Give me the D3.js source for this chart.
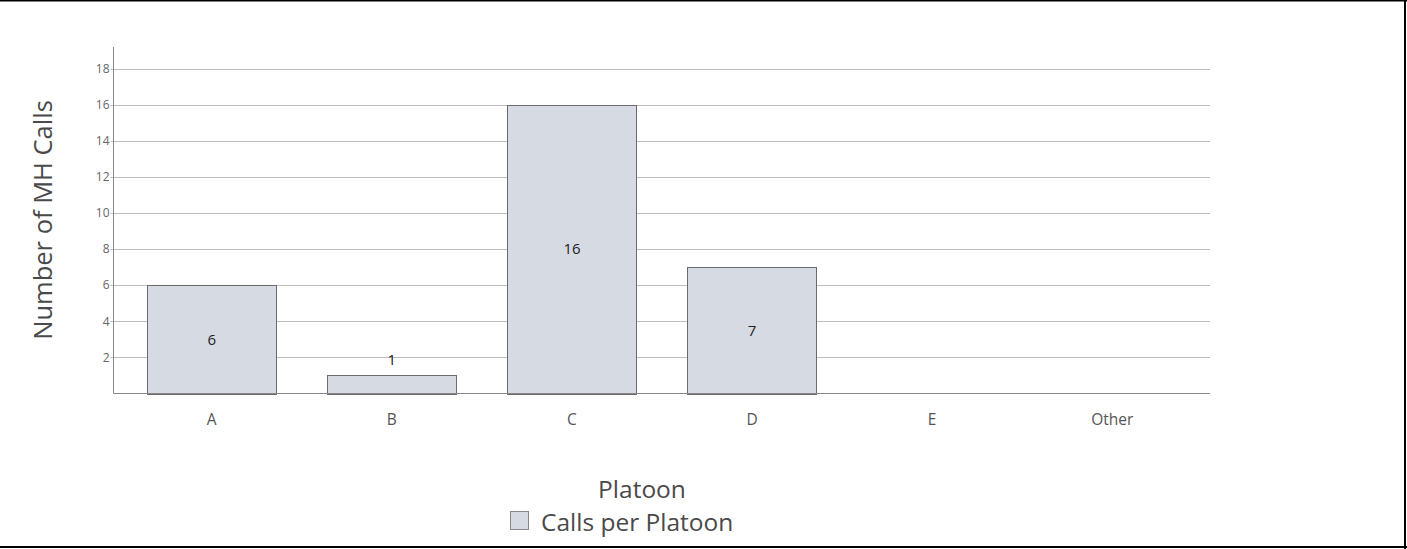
<!DOCTYPE html>
<html>
<head>
<meta charset="utf-8">
<script src="https://cdn.jsdelivr.net/npm/d3@7"></script>
<style>
  html, body { margin: 0; padding: 0; background: #fff; }
  svg { display: block; font-family: "Open Sans", "Noto Sans", sans-serif; }
</style>
</head>
<body>
<svg id="chart" width="1407" height="549"></svg>
<script>
// Calls per platoon
const platoons = ["A", "B", "C", "D", "E", "Other"];
const calls = [6, 1, 16, 7, 0, 0];
const yTickValues = [2, 4, 6, 8, 10, 12, 14, 16, 18];

const W = 1407, H = 549;
const svg = d3.select("#chart");

// frame lines (top, right, bottom)
svg.append("line").attr("x1", 0).attr("x2", W).attr("y1", 0.5).attr("y2", 0.5)
  .attr("stroke", "#000").attr("stroke-width", 2);
svg.append("line").attr("x1", 1405).attr("x2", 1405).attr("y1", 0).attr("y2", H)
  .attr("stroke", "#000").attr("stroke-width", 2);
svg.append("line").attr("x1", 0).attr("x2", W).attr("y1", 547).attr("y2", 547)
  .attr("stroke", "#000").attr("stroke-width", 2);

const plot = { left: 113.5, right: 1210, top: 47, bottom: 393.5 };

const x = d3.scaleBand()
  .domain(platoons)
  .range([122, 1202])
  .paddingInner(0.283)
  .paddingOuter(0.14);

const y = d3.scaleLinear()
  .domain([0, 19.2])
  .range([plot.bottom, plot.top]);

// gridlines
svg.append("g")
  .selectAll("line")
  .data(yTickValues)
  .join("line")
  .attr("x1", plot.left - 3)
  .attr("x2", plot.right)
  .attr("y1", d => Math.round(y(d)) + 0.5)
  .attr("y2", d => Math.round(y(d)) + 0.5)
  .attr("stroke", "#bdbdbd")
  .attr("stroke-width", 1);

// y tick labels
svg.append("g")
  .selectAll("text")
  .data(yTickValues)
  .join("text")
  .attr("x", plot.left - 4)
  .attr("y", d => y(d))
  .attr("dy", "0.35em")
  .attr("text-anchor", "end")
  .attr("font-size", 12)
  .attr("fill", "#666")
  .text(d => d);

const barData = platoons.map((p, i) => ({ p, v: calls[i] })).filter(d => d.v > 0);

// bars
svg.append("g")
  .selectAll("rect")
  .data(barData)
  .join("rect")
  .attr("x", d => Math.round(x(d.p)) + 0.5)
  .attr("y", d => Math.round(y(d.v)) + 0.5)
  .attr("width", Math.round(x.bandwidth()))
  .attr("height", d => Math.round(y(0)) - Math.round(y(d.v)))
  .attr("fill", "#d6dae3")
  .attr("stroke", "#6b6b6b")
  .attr("stroke-width", 1);

// value labels: inside tall bars, above short ones
svg.append("g")
  .selectAll("text")
  .data(barData)
  .join("text")
  .attr("x", d => x(d.p) + x.bandwidth() / 2)
  .attr("y", d => {
    const h = y(0) - y(d.v);
    return h > 30 ? (y(0) + y(d.v)) / 2 : y(d.v) - 16;
  })
  .attr("dy", "0.35em")
  .attr("text-anchor", "middle")
  .attr("font-size", 15)
  .attr("fill", "#222")
  .text(d => d.v);

// axes lines
svg.append("line")
  .attr("x1", plot.left).attr("x2", plot.left)
  .attr("y1", plot.top).attr("y2", plot.bottom)
  .attr("stroke", "#888").attr("stroke-width", 1);
svg.append("line")
  .attr("x1", plot.left).attr("x2", plot.right)
  .attr("y1", plot.bottom).attr("y2", plot.bottom)
  .attr("stroke", "#888").attr("stroke-width", 1);

// x tick labels
svg.append("g")
  .selectAll("text")
  .data(platoons)
  .join("text")
  .attr("x", d => x(d) + x.bandwidth() / 2)
  .attr("y", 420)
  .attr("dy", "0.35em")
  .attr("text-anchor", "middle")
  .attr("font-size", 15.5)
  .attr("fill", "#555")
  .text(d => d);

// axis titles
svg.append("text")
  .attr("transform", "translate(52,220) rotate(-90)")
  .attr("text-anchor", "middle")
  .attr("font-size", 25.5)
  .attr("fill", "#4a4a4a")
  .text("Number of MH Calls");

svg.append("text")
  .attr("x", 642)
  .attr("y", 498)
  .attr("text-anchor", "middle")
  .attr("font-size", 24.5)
  .attr("fill", "#4a4a4a")
  .text("Platoon");

// legend
const legend = svg.append("g");
legend.append("rect")
  .attr("x", 510.5).attr("y", 511.5)
  .attr("width", 18).attr("height", 18)
  .attr("fill", "#d6dae3")
  .attr("stroke", "#888");
legend.append("text")
  .attr("x", 541)
  .attr("y", 531)
  .attr("font-size", 24.5)
  .attr("fill", "#4a4a4a")
  .text("Calls per Platoon");
</script>
</body>
</html>
